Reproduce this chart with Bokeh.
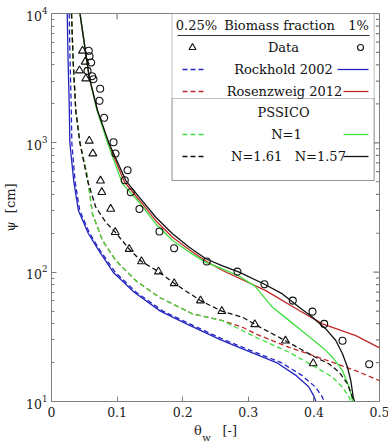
from bokeh.plotting import figure
from bokeh.models import BoxAnnotation, FixedTicker, LinearAxis, CustomJSTickFormatter
from bokeh.core.properties import value
from bokeh.embed import file_html
from bokeh.resources import INLINE

# ---------------- data ----------------
data1_theta = [0.0569, 0.0579, 0.0605, 0.0549, 0.0620, 0.0640, 0.0742, 0.0732, 0.0803, 0.0945,
               0.0976, 0.1159, 0.1117, 0.1209, 0.1341, 0.1646, 0.187, 0.2367, 0.2835, 0.3247,
               0.3678, 0.3979, 0.4157, 0.4436, 0.4843]
data1_psi = [5148, 4677, 4178, 3603, 3275, 3105, 2616, 2113, 1561, 1011,
             826, 614, 514, 415, 308, 206, 153, 121, 101, 80.6,
             60.3, 49.5, 39.8, 29.5, 19.4]
data025_theta = [0.0473, 0.0514, 0.0427, 0.0523, 0.0575, 0.063, 0.0747, 0.0767, 0.0902, 0.0971,
                 0.1184, 0.1372, 0.1631, 0.187, 0.2271, 0.2596, 0.3099, 0.3567, 0.3989]
data025_psi = [5148, 4231, 3623, 3138, 1036, 826, 509, 415, 308, 204,
               151, 121, 101, 82, 60.3, 49.9, 39.5, 29.5, 19.7]

rock1_psi = [10000, 5000, 2000, 1000, 500, 300, 200, 150, 100, 70, 50, 40, 30, 25, 20, 16, 13, 11, 10]
rock1_theta = [0.024, 0.025, 0.027, 0.028, 0.034, 0.041, 0.056, 0.071, 0.094, 0.126, 0.166, 0.205,
               0.258, 0.296, 0.343, 0.372, 0.392, 0.400, 0.403]
rock025_psi = rock1_psi
rock025_theta = [0.027, 0.028, 0.030, 0.031, 0.036, 0.043, 0.058, 0.073, 0.097, 0.129, 0.170, 0.210,
                 0.263, 0.302, 0.350, 0.381, 0.402, 0.412, 0.416]

rosen1_psi = [10000, 5000, 3217, 1778, 982, 500, 360, 250, 186, 149, 122, 103, 72, 50.5, 39.8, 32.3, 26]
rosen1_theta = [0.0434, 0.052, 0.0575, 0.070, 0.087, 0.111, 0.134, 0.159, 0.1845, 0.21, 0.2352,
                0.2607, 0.3267, 0.3776, 0.4131, 0.4639, 0.5]
rosen025_psi = [10000, 4330, 1778, 1011, 542, 282, 176, 123, 86, 64, 47.6, 42.2, 37.5, 33.3, 26.2, 21.4, 17.3, 14.5]
rosen025_theta = [0.0305, 0.033, 0.037, 0.0432, 0.0549, 0.0625, 0.0777, 0.098, 0.1285, 0.1642, 0.215,
                  0.2607, 0.2912, 0.3115, 0.3623, 0.4131, 0.4639, 0.5]

n1_1_psi = [10000, 5000, 3217, 1778, 982, 482, 347, 236, 176, 143, 119, 106, 93, 78, 53.5, 42.2, 33.3,
            26.2, 22, 17.3, 12.9, 10.2, 10]
n1_1_theta = [0.0434, 0.052, 0.0575, 0.0695, 0.086, 0.1082, 0.1337, 0.159, 0.1845, 0.21, 0.2352,
              0.2607, 0.2861, 0.31, 0.3369, 0.3623, 0.3877, 0.4131, 0.4284, 0.4436, 0.4538, 0.4588, 0.459]
n1_025_psi = [10000, 4330, 1778, 1011, 542, 282, 176, 123, 86, 64, 47.6, 42.2, 31.4, 24, 18.4, 15.4, 12.9, 10.8, 10]
n1_025_theta = [0.0305, 0.033, 0.037, 0.0432, 0.0549, 0.0625, 0.0777, 0.098, 0.1285, 0.1642, 0.215,
                0.2607, 0.3115, 0.3623, 0.4029, 0.4284, 0.4436, 0.4538, 0.456]

n157_psi = [10000, 5000, 3217, 1778, 982, 511, 380, 266, 198, 156, 127, 112, 100, 80.6, 67.9, 53.5,
            44.8, 36.4, 29.6, 23.4, 18.4, 14.5, 10.8, 10]
n157_theta = [0.0434, 0.052, 0.0575, 0.0701, 0.088, 0.1133, 0.1337, 0.159, 0.1845, 0.21, 0.2352,
              0.2607, 0.2861, 0.3247, 0.352, 0.3776, 0.3979, 0.4181, 0.4334, 0.4436, 0.4512, 0.4562,
              0.46, 0.462]
n161_psi = [10000, 4330, 1778, 1011, 511, 318, 243, 204, 151, 121, 101, 82, 60.3, 49.9, 44.8, 39.5,
            29.5, 22.6, 19.5, 16.8, 13.7, 10.8, 10]
n161_theta = [0.0305, 0.033, 0.037, 0.0432, 0.0549, 0.0675, 0.0828, 0.0971, 0.1184, 0.1372, 0.1631,
              0.187, 0.2271, 0.2596, 0.2912, 0.3099, 0.3567, 0.3979, 0.4233, 0.4386, 0.4512, 0.4588, 0.462]

x_ticks = [0, 0.1, 0.2, 0.3, 0.4, 0.5]
y_major = [10, 100, 1000, 10000]

# ---------------- style ----------------
FONT = "DejaVu Serif"
BLUE = "#2424c0"
RED = "#c02828"
GREEN = "#3ee03e"
BLACK = "#111111"
GRAY = "#808080"
TXT = "#222222"
DASH = "5 3"
LW = 1.3

p = figure(frame_width=328, frame_height=388, x_range=(0, 0.5), y_range=(10, 10000),
           y_axis_type="log", output_backend="svg", toolbar_location=None,
           min_border_left=49, min_border_right=11, min_border_top=13, min_border_bottom=41,
           background_fill_color="white", border_fill_color="white")
p.grid.visible = False
p.outline_line_color = GRAY

# canvas-pixel -> data helpers (frame at x 49..377, y 13..401)
def dx(px):
    return (px - 49) / 328 * 0.5

def dy(py):
    return 10 ** (4 - (py - 13) / 388 * 3)

for ax in (p.xaxis[0], p.yaxis[0]):
    ax.axis_line_color = GRAY
    ax.major_tick_line_color = GRAY
    ax.minor_tick_line_color = GRAY
    ax.major_tick_in = 5
    ax.major_tick_out = 0
    ax.minor_tick_in = 3
    ax.minor_tick_out = 0
    ax.major_label_text_font = FONT
    ax.major_label_text_font_size = "12.5px"
    ax.major_label_text_color = TXT
    ax.axis_label_text_font = FONT
    ax.axis_label_text_font_size = "13px"
    ax.axis_label_text_font_style = "normal"
    ax.axis_label_text_color = TXT

p.xaxis[0].ticker = FixedTicker(ticks=x_ticks)
p.xaxis[0].minor_tick_line_color = None
p.xaxis[0].major_label_standoff = 5
p.yaxis[0].axis_label = "ψ\u00a0\u00a0[cm]"
p.yaxis[0].major_label_standoff = 4
p.yaxis[0].axis_label_standoff = 5

def bare_axis(ticks):
    ax = LinearAxis(ticker=FixedTicker(ticks=ticks))
    ax.axis_line_color = None
    ax.major_tick_line_color = None
    ax.minor_tick_line_color = None
    ax.major_tick_in = 0
    ax.major_tick_out = 0
    ax.minor_tick_in = 0
    ax.minor_tick_out = 0
    ax.major_label_text_font = FONT
    ax.major_label_text_color = TXT
    ax.axis_label_text_font = FONT
    ax.axis_label_text_font_style = "normal"
    ax.axis_label_text_color = TXT
    return ax

# x axis title  θ_w [-]  (second and third axes carry the title and the subscript)
xl = bare_axis([])
xl.major_label_standoff = 0
xl.axis_label = "θ\u00a0\u00a0\u00a0\u00a0\u00a0[-]"
xl.axis_label_text_font_size = "13px"
xl.axis_label_standoff = 3
p.add_layout(xl, "below")

xs = bare_axis([dx(204)])
xs.formatter = CustomJSTickFormatter(code="return 'w'")
xs.major_label_text_font_size = "10px"
xs.major_label_standoff = -9
p.add_layout(xs, "below")

# mirrored inward ticks on top and right frame edges
tx = 6 / 328 * 0.5
top_ticks = x_ticks[1:-1]
p.segment(x0=top_ticks, x1=top_ticks, y0=[10000] * len(top_ticks), y1=[dy(19)] * len(top_ticks),
          line_color=GRAY, line_width=1.2)
r_major = y_major[1:-1]
p.segment(x0=[0.5] * len(r_major), x1=[0.5 - tx] * len(r_major), y0=r_major, y1=r_major,
          line_color=GRAY, line_width=1.2)
r_minor = [m * d for d in (10, 100, 1000) for m in range(2, 10)]
p.segment(x0=[0.5] * len(r_minor), x1=[0.5 - 0.6 * tx] * len(r_minor), y0=r_minor, y1=r_minor,
          line_color=GRAY, line_width=1.2)

# ---------------- curves ----------------
p.line(rock025_theta, rock025_psi, color=BLUE, line_width=LW, line_dash=DASH)
p.line(rock1_theta, rock1_psi, color=BLUE, line_width=LW)
p.line(rosen025_theta, rosen025_psi, color=RED, line_width=LW, line_dash=DASH)
p.line(rosen1_theta, rosen1_psi, color=RED, line_width=LW)
p.line(n1_025_theta, n1_025_psi, color=GREEN, line_width=LW, line_dash=DASH)
p.line(n1_1_theta, n1_1_psi, color=GREEN, line_width=LW)
p.line(n161_theta, n161_psi, color=BLACK, line_width=LW, line_dash=DASH)
p.line(n157_theta, n157_psi, color=BLACK, line_width=LW)

p.scatter(data025_theta, data025_psi, marker="triangle", size=8, fill_color=None,
          line_color=BLACK, line_width=1.1)
p.scatter(data1_theta, data1_psi, marker="circle", size=7, fill_color=None,
          line_color=BLACK, line_width=1.1)

# ---------------- legend (hand built) ----------------
LB = "#333333"
p.add_layout(BoxAnnotation(left=dx(169.5), right=dx(371.7), top=dy(13), bottom=dy(180),
                           fill_color="white", fill_alpha=1, line_color=LB, line_width=1,
                           level="annotation"))
p.add_layout(BoxAnnotation(left=dx(169.5), right=dx(371.7), top=dy(98), bottom=dy(180),
                           fill_alpha=0, line_color=LB, line_width=1, level="annotation"))

def keep(r):
    r.level = "overlay"
    return r

keep(p.segment(x0=[dx(175)], x1=[dx(367)], y0=[dy(35)], y1=[dy(35)], line_color=LB, line_width=1))

def txt(px, py, s):
    keep(p.text(x=[dx(px)], y=[dy(py)], text=[s], text_font=value(FONT), text_font_size="13px",
                text_align="center", text_baseline="middle", text_color="#111111"))

txt(194, 25, "0.25%")
txt(277, 25, "Biomass fraction")
txt(356, 25, "1%")
txt(281, 47, "Data")
txt(281, 69, "Rockhold 2002")
txt(282, 91, "Rosenzweig 2012")
txt(281, 112, "PSSICO")
txt(284, 134, "N=1")
txt(286, 156, "N=1.61\u00a0\u00a0\u00a0N=1.57")

keep(p.scatter([dx(190)], [dy(47)], marker="triangle", size=7, fill_color=None, line_color=BLACK,
               line_width=1.1))
keep(p.scatter([dx(358)], [dy(47)], marker="circle", size=6, fill_color=None, line_color=BLACK,
               line_width=1.1))

rows = [(69, BLUE, 335), (91, RED, 341), (134, GREEN, 341), (156, BLACK, 341)]
for py, c, sx0 in rows:
    keep(p.segment(x0=[dx(180)], x1=[dx(204)], y0=[dy(py)], y1=[dy(py)], line_color=c,
                   line_width=LW, line_dash="5 3"))
    keep(p.segment(x0=[dx(sx0)], x1=[dx(366)], y0=[dy(py)], y1=[dy(py)], line_color=c,
                   line_width=LW))

open("out.html", "w").write(file_html(p, INLINE))
